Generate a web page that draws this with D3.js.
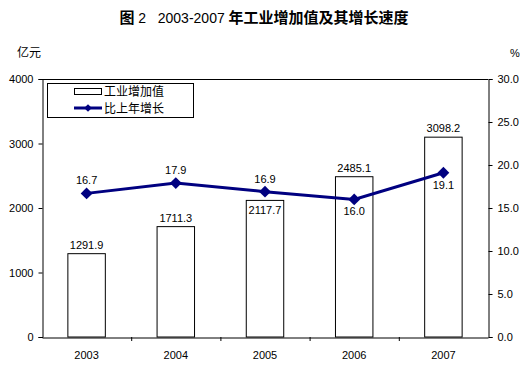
<!DOCTYPE html>
<html><head><meta charset="utf-8">
<script src="https://cdn.jsdelivr.net/npm/d3@7"></script>
<style>body{margin:0;background:#fff;} svg{display:block;}</style>
</head><body>
<script>
const years = ["2003","2004","2005","2006","2007"];
const valueAdded = [1291.9, 1711.3, 2117.7, 2485.1, 3098.2];
const growth = [16.7, 17.9, 16.9, 16.0, 19.1];
const leftTicks = [0, 1000, 2000, 3000, 4000];
const rightTicks = [0, 5, 10, 15, 20, 25, 30];
const barLabelInside = [false, false, true, false, false];
const lineLabelBelow = [false, false, false, true, true];

const W = 529, H = 369;
const m = {left: 42, right: 488, top: 79, bottom: 337};
const numFont = "'Liberation Sans', Arial, sans-serif";
const cjkFont = "'Noto Sans CJK SC', 'Noto Sans', sans-serif";
const navy = "#000080";

const svg = d3.select("body").append("svg").attr("width", W).attr("height", H);

const x = d3.scaleBand().domain(years).range([m.left, m.right]).padding(0);
const yL = d3.scaleLinear().domain([0, 4000]).range([m.bottom, m.top]);
const yR = d3.scaleLinear().domain([0, 30]).range([m.bottom, m.top]);

// Title
const title = svg.append("text").attr("x", 264).attr("y", 23).attr("text-anchor", "middle")
  .attr("font-size", 15).attr("fill", "#000");
title.append("tspan").attr("font-family", cjkFont).attr("font-weight", "bold").text("图");
title.append("tspan").attr("font-family", numFont).attr("font-size", 14).text("\u00a02\u00a0\u00a0\u00a02003-2007\u00a0");
title.append("tspan").attr("font-family", cjkFont).attr("font-weight", "bold").text("年工业增加值及其增长速度");

// Unit labels
svg.append("text").attr("x", 17).attr("y", 57).attr("font-family", cjkFont).attr("font-size", 12).text("亿元");
svg.append("text").attr("x", 510).attr("y", 57).attr("font-family", numFont).attr("font-size", 11).text("%");

// Bars
const bw = x.bandwidth() * 0.42;
svg.selectAll("rect.bar").data(years).enter().append("rect")
  .attr("x", (d) => x(d) + x.bandwidth()/2 - bw/2)
  .attr("y", (d, i) => yL(valueAdded[i]))
  .attr("width", bw)
  .attr("height", (d, i) => m.bottom - yL(valueAdded[i]))
  .attr("fill", "#fff").attr("stroke", "#000").attr("stroke-width", 1);

// Top border
svg.append("line").attr("x1", m.left).attr("x2", m.right).attr("y1", m.top + 0.5).attr("y2", m.top + 0.5)
  .attr("stroke", "#000");

// Axes
const axL = d3.axisLeft(yL).tickValues(leftTicks).tickFormat(d3.format("d")).tickSize(4).tickPadding(5);
const gL = svg.append("g").attr("transform", `translate(${m.left + 0.5},0)`).call(axL);
const axR = d3.axisRight(yR).tickValues(rightTicks).tickFormat(d3.format(".1f")).tickSize(4).tickPadding(5);
const gR = svg.append("g").attr("transform", `translate(${m.right + 0.5},0)`).call(axR);
const axB = d3.axisBottom(x).tickSize(0).tickPadding(14);
const gB = svg.append("g").attr("transform", `translate(0,${m.bottom + 0.5})`).call(axB);
[gL, gR, gB].forEach(g => {
  g.select(".domain").attr("stroke", "#000");
  g.selectAll("text").attr("font-family", numFont).attr("font-size", 11).attr("fill", "#000");
  g.selectAll("line").attr("stroke", "#000");
});
// category boundary ticks
svg.selectAll("line.bt").data(years.slice(1)).enter().append("line")
  .attr("x1", d => x(d) + 0.5).attr("x2", d => x(d) + 0.5)
  .attr("y1", m.bottom).attr("y2", m.bottom + 4).attr("stroke", "#000");

// Bar labels
svg.selectAll("text.bl").data(years).enter().append("text")
  .attr("x", d => x(d) + x.bandwidth()/2)
  .attr("y", (d, i) => barLabelInside[i] ? yL(valueAdded[i]) + 14 : yL(valueAdded[i]) - 5)
  .attr("text-anchor", "middle").attr("font-family", numFont).attr("font-size", 11)
  .text((d, i) => valueAdded[i].toFixed(1));

// Line
const line = d3.line().x((d, i) => x(years[i]) + x.bandwidth()/2).y(d => yR(d));
svg.append("path").datum(growth).attr("d", line).attr("fill", "none")
  .attr("stroke", navy).attr("stroke-width", 3);
svg.selectAll("path.pt").data(growth).enter().append("path")
  .attr("d", d3.symbol().type(d3.symbolSquare).size(70))
  .attr("transform", (d, i) => `translate(${x(years[i]) + x.bandwidth()/2},${yR(d)}) rotate(45)`)
  .attr("fill", navy);
svg.selectAll("text.ll").data(growth).enter().append("text")
  .attr("x", (d, i) => x(years[i]) + x.bandwidth()/2)
  .attr("y", (d, i) => lineLabelBelow[i] ? yR(d) + 16 : yR(d) - 9)
  .attr("text-anchor", "middle").attr("font-family", numFont).attr("font-size", 11)
  .text(d => d.toFixed(1));

// Legend
const lg = svg.append("g");
lg.append("rect").attr("x", 47.5).attr("y", 83.5).attr("width", 146).attr("height", 34)
  .attr("fill", "#fff").attr("stroke", "#000");
lg.append("rect").attr("x", 74.5).attr("y", 88.5).attr("width", 27).attr("height", 6)
  .attr("fill", "#fff").attr("stroke", "#000");
lg.append("text").attr("x", 104).attr("y", 96).attr("font-family", cjkFont).attr("font-size", 12).text("工业增加值");
lg.append("line").attr("x1", 74).attr("x2", 102).attr("y1", 108).attr("y2", 108).attr("stroke", navy).attr("stroke-width", 3);
lg.append("path").attr("d", d3.symbol().type(d3.symbolSquare).size(30))
  .attr("transform", "translate(88,108) rotate(45)").attr("fill", navy);
lg.append("text").attr("x", 104).attr("y", 113).attr("font-family", cjkFont).attr("font-size", 12).text("比上年增长");
</script>
</body></html>
